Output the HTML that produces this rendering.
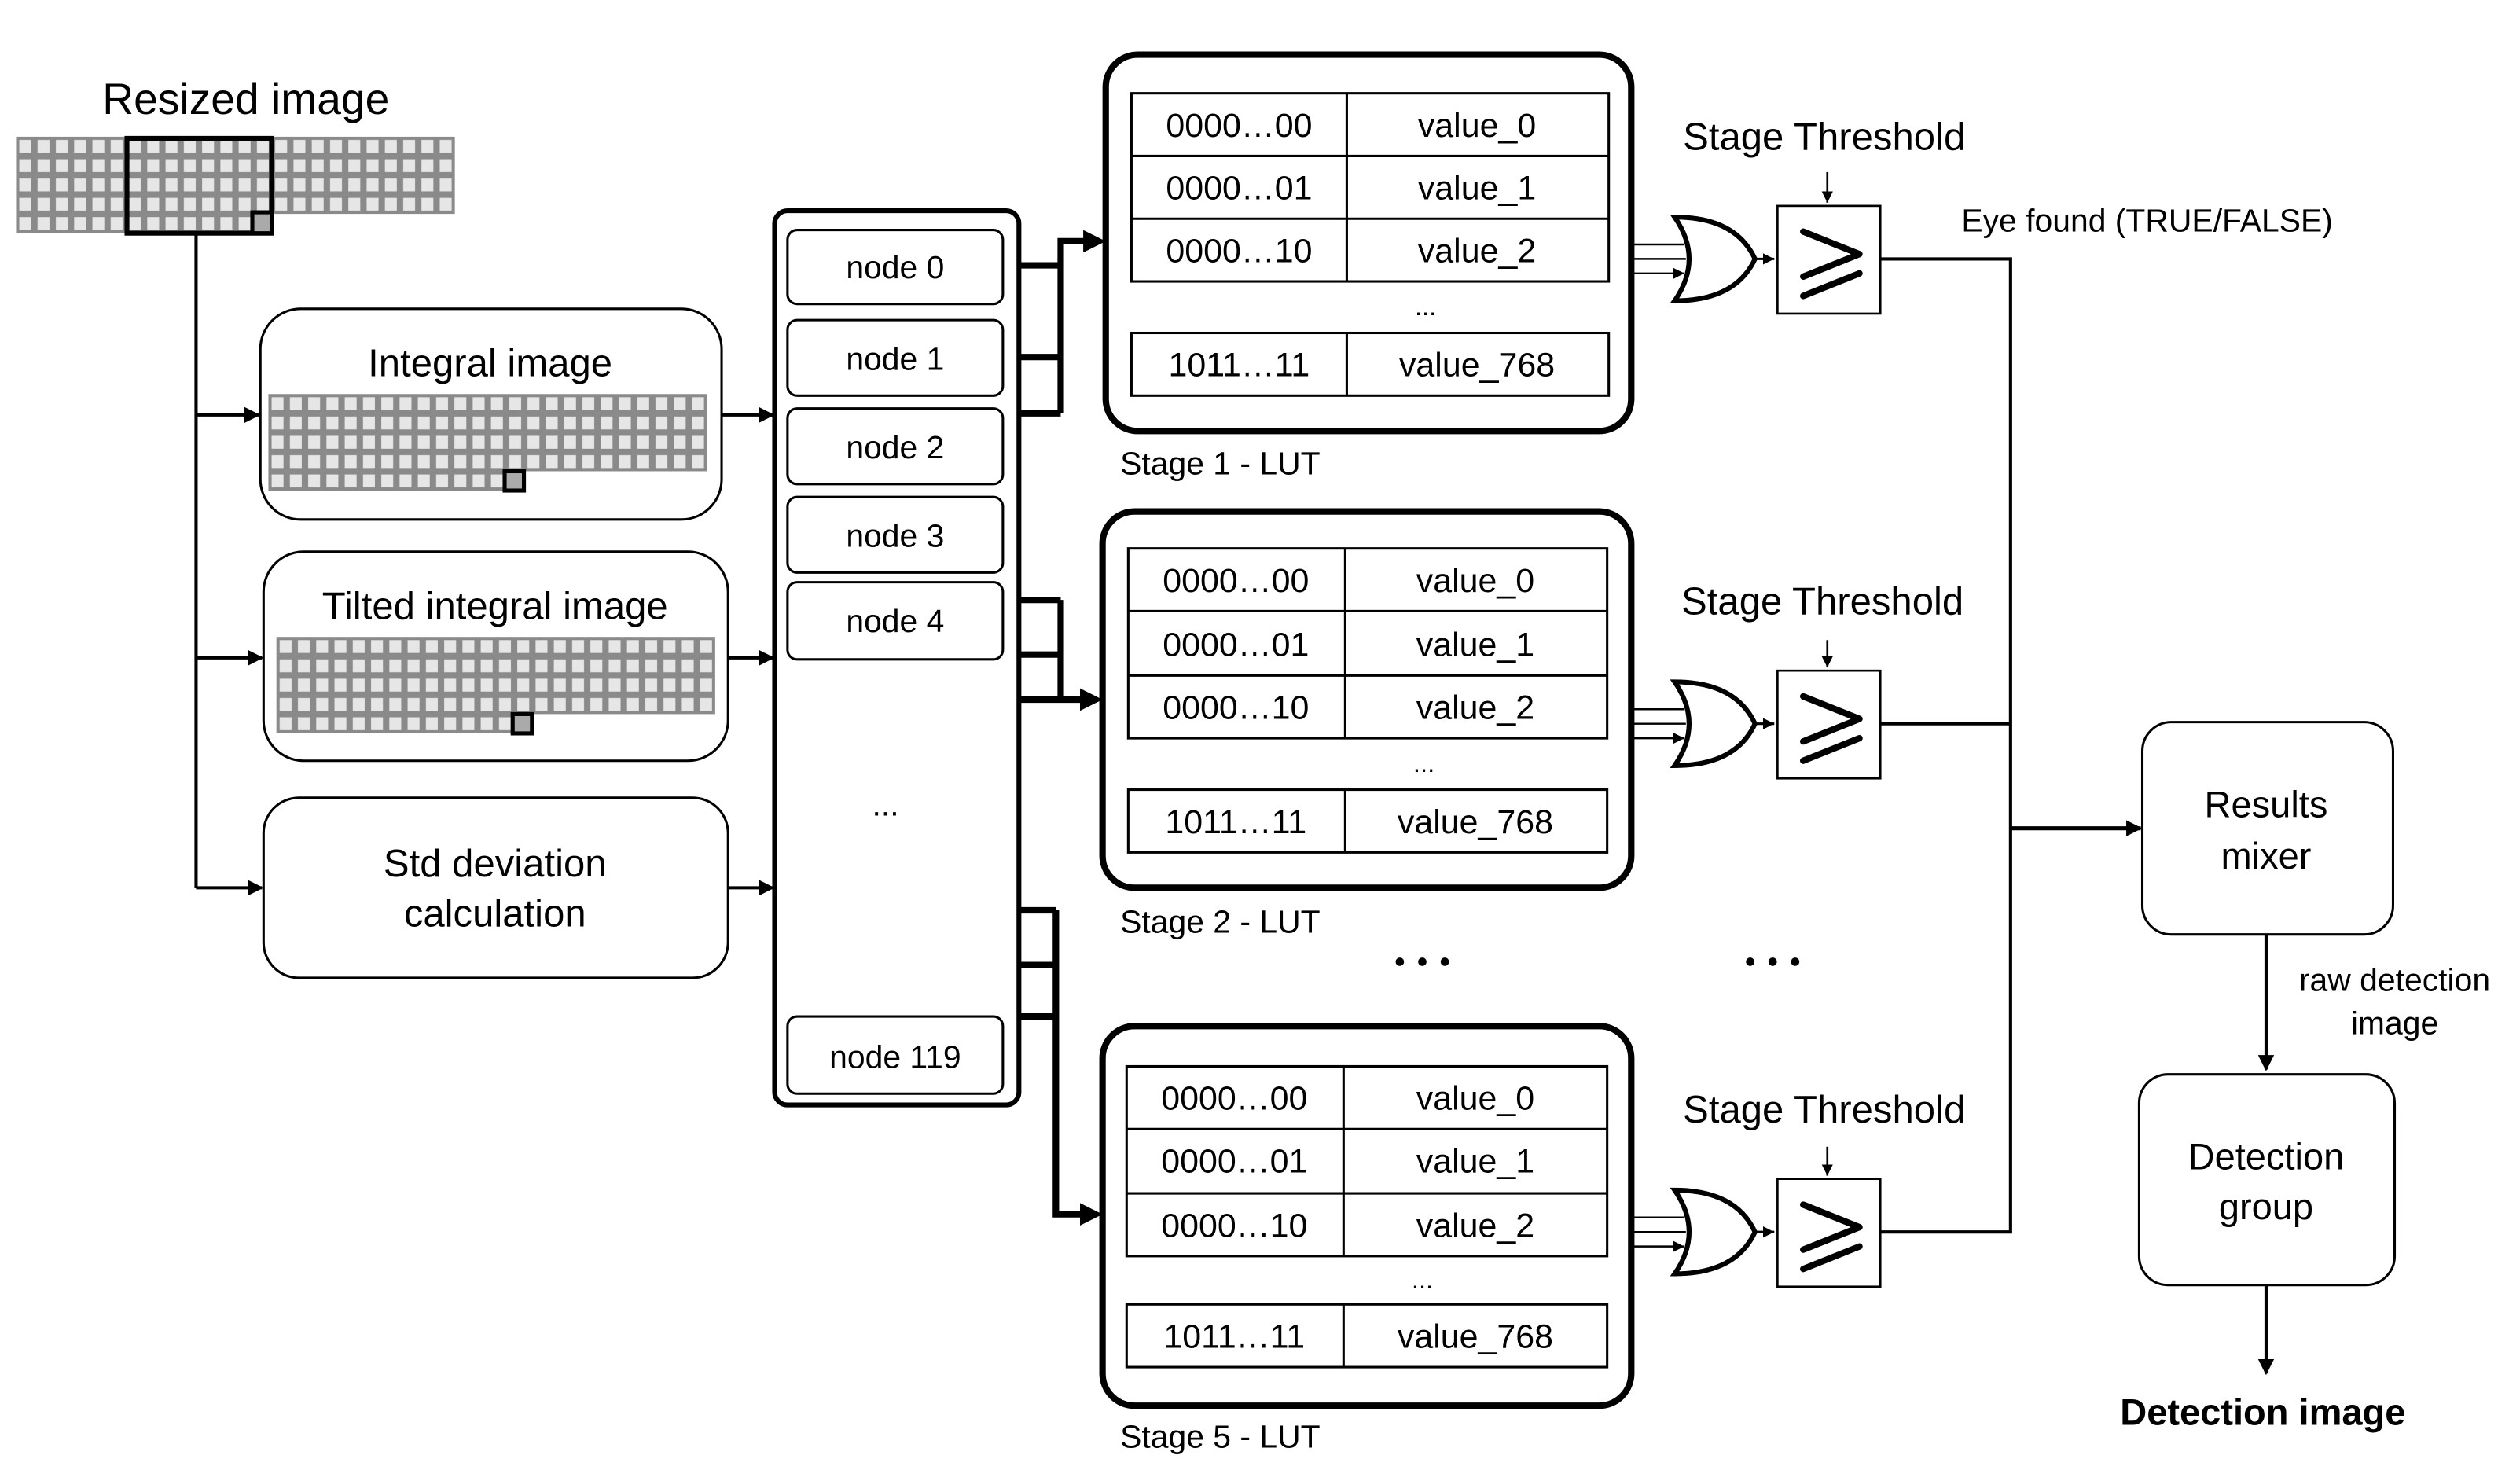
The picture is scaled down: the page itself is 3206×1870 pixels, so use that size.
<!DOCTYPE html>
<html><head><meta charset="utf-8"><style>
html,body{margin:0;padding:0;background:#fff}
svg{display:block}
text{font-family:"Liberation Sans",sans-serif;fill:#000}
</style></head><body>
<svg width="3206" height="1870" viewBox="0 0 1568 914" preserveAspectRatio="none" xmlns="http://www.w3.org/2000/svg">
<defs>
<pattern id="g" x="0" y="0" width="11.375" height="12" patternUnits="userSpaceOnUse">
<rect width="11.375" height="12" fill="#8a8a8a"/>
<rect x="2" y="2" width="7.4" height="8" fill="#e6e6e6"/>
</pattern>
<marker id="a" markerWidth="10" markerHeight="10" refX="9" refY="5" orient="auto" markerUnits="userSpaceOnUse">
<path d="M0,0 L10,5 L0,10 Z" fill="#000"/></marker>
<marker id="as" markerWidth="7" markerHeight="7" refX="7" refY="3.5" orient="auto" markerUnits="userSpaceOnUse">
<path d="M0,0 L7,3.5 L0,7 Z" fill="#000"/></marker>
</defs>

<text x="153" y="71" font-size="27" text-anchor="middle">Resized image</text>
<g transform="translate(10,85)">
<rect width="273" height="60" fill="url(#g)"/>
<rect x="160" y="48" width="114" height="13" fill="#fff"/>
</g>
<rect x="79" y="86" width="90" height="59" fill="none" stroke="#000" stroke-width="3"/>
<rect x="157" y="132" width="12" height="13" fill="#aaa" stroke="#000" stroke-width="2.5"/>

<g stroke="#000" stroke-width="2" fill="none">
<path d="M122,145 V552"/>
<path d="M122,258 H161" marker-end="url(#a)"/>
<path d="M122,409 H163" marker-end="url(#a)"/>
<path d="M122,552 H163" marker-end="url(#a)"/>
<path d="M449,258 H481" marker-end="url(#a)"/>
<path d="M453,409 H481" marker-end="url(#a)"/>
<path d="M453,552 H481" marker-end="url(#a)"/>
</g>

<rect x="162" y="192" width="287" height="131" rx="25" fill="#fff" stroke="#000" stroke-width="1.5"/>
<text x="305" y="234" font-size="24" text-anchor="middle">Integral image</text>
<g transform="translate(167,245)">
<rect width="273" height="60" fill="url(#g)"/>
<rect x="159" y="48" width="115" height="13" fill="#fff"/>
</g>
<rect x="314" y="293" width="12" height="12" fill="#aaa" stroke="#000" stroke-width="2.5"/>

<rect x="164" y="343" width="289" height="130" rx="25" fill="#fff" stroke="#000" stroke-width="1.5"/>
<text x="308" y="385" font-size="24" text-anchor="middle">Tilted integral image</text>
<g transform="translate(172,396)">
<rect width="273" height="60" fill="url(#g)"/>
<rect x="159" y="48" width="115" height="13" fill="#fff"/>
</g>
<rect x="319" y="444" width="12" height="12" fill="#aaa" stroke="#000" stroke-width="2.5"/>

<rect x="164" y="496" width="289" height="112" rx="22" fill="#fff" stroke="#000" stroke-width="1.5"/>
<text x="308" y="545" font-size="24" text-anchor="middle">Std deviation</text>
<text x="308" y="576" font-size="24" text-anchor="middle">calculation</text>

<rect x="482" y="131" width="152" height="556" rx="8" fill="#fff" stroke="#000" stroke-width="3"/>
<g fill="#fff" stroke="#000" stroke-width="1.5">
<rect x="490" y="143" width="134" height="46" rx="6"/>
<rect x="490" y="199" width="134" height="47" rx="6"/>
<rect x="490" y="254" width="134" height="47" rx="6"/>
<rect x="490" y="309" width="134" height="47" rx="6"/>
<rect x="490" y="362" width="134" height="48" rx="6"/>
<rect x="490" y="632" width="134" height="48" rx="6"/>
</g>
<g font-size="20" text-anchor="middle">
<text x="557" y="173">node 0</text>
<text x="557" y="230">node 1</text>
<text x="557" y="285">node 2</text>
<text x="557" y="340">node 3</text>
<text x="557" y="393">node 4</text>
<text x="551" y="507">...</text>
<text x="557" y="664">node 119</text>
</g>

<g stroke="#000" stroke-width="4" fill="none">
<path d="M634,165 H660 M634,222 H660 M634,257 H660 M660,257 V150 H676"/>
<path d="M634,373 H660 M634,407 H660 M634,435 H675 M660,373 V435"/>
<path d="M634,566 H657 M634,600 H657 M634,632 H657 M657,566 V755 H675"/>
</g>
<g fill="#000">
<path d="M674,143 L688,150 L674,157 Z"/>
<path d="M672,428 L686,435 L672,442 Z"/>
<path d="M672,748 L686,755 L672,762 Z"/>
</g>

<rect x="688" y="34" width="327" height="234" rx="20" fill="#fff" stroke="#000" stroke-width="4"/>
<rect x="686" y="318" width="329" height="234" rx="20" fill="#fff" stroke="#000" stroke-width="4"/>
<rect x="686" y="638" width="329" height="236" rx="20" fill="#fff" stroke="#000" stroke-width="4"/>

<g fill="none" stroke="#000" stroke-width="1.5">
<rect x="704" y="58" width="297" height="117"/><path d="M704,97 H1001 M704,136 H1001 M838,58 V175"/>
<rect x="704" y="207" width="297" height="39"/><path d="M838,207 V246"/>
<rect x="702" y="341" width="298" height="118"/><path d="M702,380 H1000 M702,420 H1000 M837,341 V459"/>
<rect x="702" y="491" width="298" height="39"/><path d="M837,491 V530"/>
<rect x="701" y="663" width="299" height="118"/><path d="M701,702 H1000 M701,742 H1000 M836,663 V781"/>
<rect x="701" y="811" width="299" height="39"/><path d="M836,811 V850"/>
</g>
<g font-size="21" text-anchor="middle">
<text x="771" y="85">0000…00</text><text x="919" y="85">value_0</text>
<text x="771" y="124">0000…01</text><text x="919" y="124">value_1</text>
<text x="771" y="163">0000…10</text><text x="919" y="163">value_2</text>
<text x="887" y="196" font-size="16">...</text>
<text x="771" y="234">1011…11</text><text x="919" y="234">value_768</text>

<text x="769" y="368">0000…00</text><text x="918" y="368">value_0</text>
<text x="769" y="408">0000…01</text><text x="918" y="408">value_1</text>
<text x="769" y="447">0000…10</text><text x="918" y="447">value_2</text>
<text x="886" y="480" font-size="16">...</text>
<text x="769" y="518">1011…11</text><text x="918" y="518">value_768</text>

<text x="768" y="690">0000…00</text><text x="918" y="690">value_0</text>
<text x="768" y="729">0000…01</text><text x="918" y="729">value_1</text>
<text x="768" y="769">0000…10</text><text x="918" y="769">value_2</text>
<text x="885" y="801" font-size="16">...</text>
<text x="768" y="838">1011…11</text><text x="918" y="838">value_768</text>
</g>
<g font-size="20">
<text x="697" y="295">Stage 1 - LUT</text>
<text x="697" y="580">Stage 2 - LUT</text>
<text x="697" y="900">Stage 5 - LUT</text>
</g>
<g fill="#000">
<circle cx="871" cy="598" r="2.6"/><circle cx="885" cy="598" r="2.6"/><circle cx="899" cy="598" r="2.6"/>
<circle cx="1089" cy="598" r="2.6"/><circle cx="1103" cy="598" r="2.6"/><circle cx="1117" cy="598" r="2.6"/>
</g>

<g stroke="#000" fill="none">
<g>
<path d="M1015,152 H1048 M1015,161 H1049 M1015,170 H1048" stroke-width="1.2" marker-end="url(#as)"/>
<path d="M1042,135 Q1060,161 1042,187 Q1080,187 1092,161 Q1080,135 1042,135 Z" stroke-width="3" fill="#fff"/>
<path d="M1092,161 H1104" stroke-width="1.5" marker-end="url(#as)"/>
<rect x="1106" y="128" width="64" height="67" stroke-width="1.3" fill="#fff"/>
<path d="M1122,144 L1157,158 L1122,172 M1122,184 L1157,170" stroke-width="4" stroke-linecap="round" stroke-linejoin="round"/>
<path d="M1137,107 V126" stroke-width="1.3" marker-end="url(#as)"/>
</g>
<g transform="translate(0,289)">
<path d="M1015,152 H1048 M1015,161 H1049 M1015,170 H1048" stroke-width="1.2" marker-end="url(#as)"/>
<path d="M1042,135 Q1060,161 1042,187 Q1080,187 1092,161 Q1080,135 1042,135 Z" stroke-width="3" fill="#fff"/>
<path d="M1092,161 H1104" stroke-width="1.5" marker-end="url(#as)"/>
<rect x="1106" y="128" width="64" height="67" stroke-width="1.3" fill="#fff"/>
<path d="M1122,144 L1157,158 L1122,172 M1122,184 L1157,170" stroke-width="4" stroke-linecap="round" stroke-linejoin="round"/>
<path d="M1137,109 V126" stroke-width="1.3" marker-end="url(#as)"/>
</g>
<g transform="translate(0,605)">
<path d="M1015,152 H1048 M1015,161 H1049 M1015,170 H1048" stroke-width="1.2" marker-end="url(#as)"/>
<path d="M1042,135 Q1060,161 1042,187 Q1080,187 1092,161 Q1080,135 1042,135 Z" stroke-width="3" fill="#fff"/>
<path d="M1092,161 H1104" stroke-width="1.5" marker-end="url(#as)"/>
<rect x="1106" y="128" width="64" height="67" stroke-width="1.3" fill="#fff"/>
<path d="M1122,144 L1157,158 L1122,172 M1122,184 L1157,170" stroke-width="4" stroke-linecap="round" stroke-linejoin="round"/>
<path d="M1137,108 V126" stroke-width="1.3" marker-end="url(#as)"/>
</g>
<path d="M1170,161 H1251 V766 H1170 M1170,450 H1251" stroke-width="2"/>
<path d="M1251,515 H1332" stroke-width="2.5" marker-end="url(#a)"/>
<path d="M1410,581 V665" stroke-width="2" marker-end="url(#a)"/>
<path d="M1410,799 V854" stroke-width="2" marker-end="url(#a)"/>
</g>
<g font-size="24" text-anchor="middle">
<text x="1135" y="93">Stage Threshold</text>
<text x="1134" y="382">Stage Threshold</text>
<text x="1135" y="698">Stage Threshold</text>
</g>
<text x="1336" y="144" font-size="20" text-anchor="middle">Eye found (TRUE/FALSE)</text>

<rect x="1333" y="449" width="156" height="132" rx="18" fill="#fff" stroke="#000" stroke-width="1.5"/>
<text x="1410" y="508" font-size="23" text-anchor="middle">Results</text>
<text x="1410" y="540" font-size="23" text-anchor="middle">mixer</text>
<text x="1490" y="616" font-size="20" text-anchor="middle">raw detection</text>
<text x="1490" y="643" font-size="20" text-anchor="middle">image</text>
<rect x="1331" y="668" width="159" height="131" rx="18" fill="#fff" stroke="#000" stroke-width="1.5"/>
<text x="1410" y="727" font-size="23" text-anchor="middle">Detection</text>
<text x="1410" y="758" font-size="23" text-anchor="middle">group</text>
<text x="1408" y="886" font-size="23" font-weight="bold" text-anchor="middle">Detection image</text>
</svg>
</body></html>
